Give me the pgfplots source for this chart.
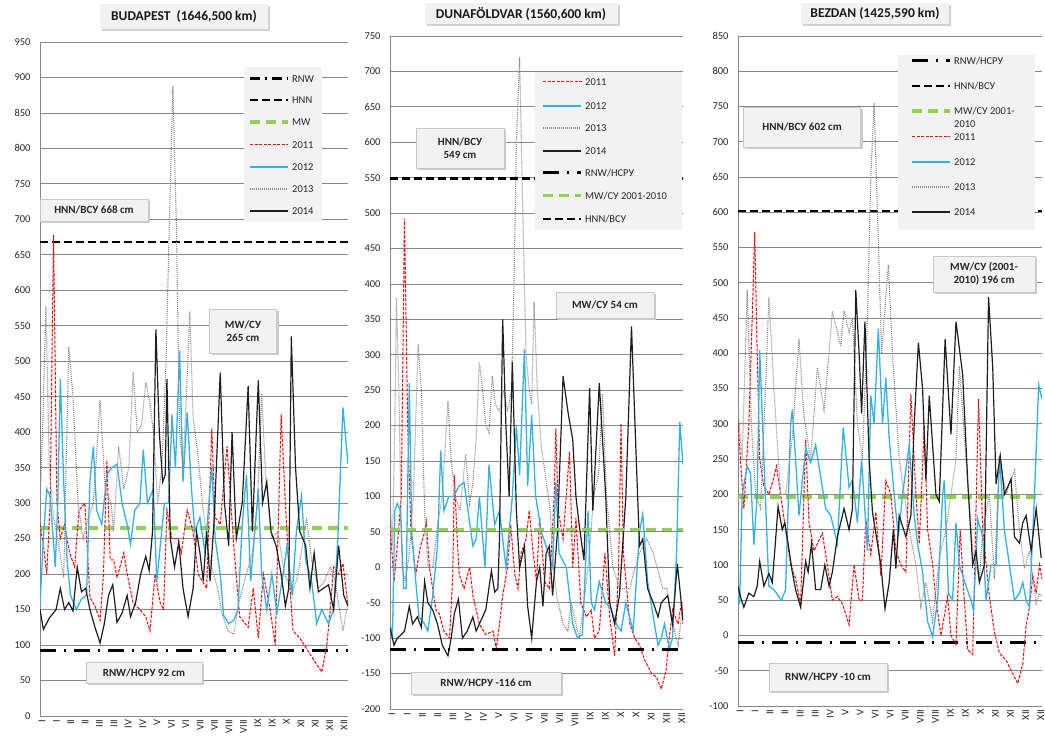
\documentclass[border=0pt]{standalone}
\usepackage{fontspec}
\setmainfont{Carlito}
\usepackage{pgfplots}
\pgfplotsset{compat=1.18}

\definecolor{gridc}{RGB}{134,134,134}
\definecolor{legbg}{RGB}{242,242,242}
\definecolor{c11}{RGB}{255,0,0}
\definecolor{c12}{RGB}{51,178,230}
\definecolor{c13}{RGB}{140,140,140}
\definecolor{c14}{RGB}{30,30,30}
\definecolor{mwgreen}{RGB}{146,208,80}
\definecolor{tickc}{RGB}{38,38,38}

\newcommand\fnt{\fontsize{10.5}{12}\selectfont}

\tikzset{
  rnw/.style={draw=black, line width=3pt, dash pattern=on 16pt off 8pt on 2pt off 8pt},
  hnn/.style={draw=black, line width=2.6pt, dash pattern=on 8pt off 4pt},
  mw/.style={draw=mwgreen, line width=3.5pt, dash pattern=on 10pt off 6pt},
  y11/.style={draw=c11, line width=1pt, dash pattern=on 3pt off 1.5pt},
  y12/.style={draw=c12, line width=1.3pt},
  y13/.style={draw=c13, line width=1.1pt, dash pattern=on 1pt off 1pt},
  y14/.style={draw=c14, line width=1.2pt},
  note/.style={draw=black!22, line width=0.6pt, fill=legbg, align=center,
    font=\bfseries\fontsize{11}{13}\selectfont, text=black!85, inner sep=2pt,
    preaction={fill=black!20, transform canvas={xshift=2pt,yshift=-2pt}}},
  ttl/.style={draw=none, fill=legbg, align=center,
    font=\bfseries\fontsize{13.5}{15}\selectfont, text=black!90, inner sep=2pt,
    preaction={fill=black!18, transform canvas={xshift=2pt,yshift=-2pt}}},
}

\pgfplotsset{
  panel/.style={
    scale only axis, anchor=south west,
    xmin=1, xmax=365,
    axis x line*=bottom, axis y line*=left,
    axis line style={gridc, line width=0.8pt, -},
    ymajorgrids, grid style={gridc, line width=0.8pt},
    major tick length=0pt,
    tick label style={font=\fnt, text=tickc},
    xticklabel style={rotate=90, anchor=east, yshift=-2pt},
    yticklabel style={xshift=-6pt},
    /pgf/number format/assume math mode=true,
    /pgf/number format/1000 sep={},
  },
}

% legend sample and legend text
\newcommand\legline[3]{%
  \begin{scope}\draw[#3] (#1pt,#2pt) -- ++(38pt,0pt);\end{scope}}
\newcommand\legtext[3]{%
  \node[anchor=west, font=\fnt, text=tickc, inner sep=0pt] at ([xshift=42pt]#1pt,#2pt) {#3};}
% red dashed sample built from filled bits
\newcommand\legdash[2]{%
  \foreach \k in {0,...,8} {\fill[c11] ([xshift=\k*4.5pt]#1pt,#2pt-0.5pt) rectangle ++(3pt,1pt);}}

\begin{document}
\begin{tikzpicture}
\path[use as bounding box] (0pt,0pt) rectangle (1045pt,738pt);

% BUDAPEST
\begin{axis}[panel, at={(40pt,22pt)}, width=308pt, height=674pt,
  ymin=0, ymax=950, ytick={0,50,...,950},
  xtick={1,18,...,358},
  xticklabels={I,I,II,II,III,III,IV,IV,V,VI,VI,VII,VII,VIII,VIII,IX,IX,X,XI,XI,XII,XII}]
\addplot[rnw] coordinates {(1,92) (365,92)};
\addplot[hnn] coordinates {(1,668) (365,668)};
\addplot[mw] coordinates {(1,265) (365,265)};
\addplot[y11] coordinates {(1,270)(5,240)(9,200)(13,300)(17,678)(21,300)(25,250)(30,270)(36,230)(42,210)(47,290)(54,300)(60,167)(66,155)(72,135)(76,200)(80,360)(84,220)(88,220)(92,195)(100,230)(104,200)(111,160)(119,150)(126,140)(131,120)(137,200)(143,160)(147,150)(151,290)(157,250)(164,250)(168,230)(175,290)(182,260)(188,200)(198,180)(204,405)(208,280)(214,270)(222,380)(230,240)(237,140)(247,125)(253,180)(259,110)(265,200)(273,150)(279,100)(286,425)(291,300)(296,190)(300,120)(308,110)(316,95)(324,80)(334,62)(340,100)(344,150)(348,210)(354,200)(359,215)(365,155)};
\addplot[y12] coordinates {(1,155)(5,250)(9,320)(13,310)(19,210)(22,300)(25,475)(29,330)(33,220)(37,170)(44,150)(50,165)(56,170)(60,330)(64,380)(68,290)(74,270)(80,340)(86,350)(92,355)(98,300)(104,270)(108,242)(113,290)(119,300)(123,375)(128,300)(135,320)(139,190)(144,250)(148,300)(153,300)(157,425)(161,350)(166,515)(170,330)(175,428)(180,320)(184,260)(190,280)(196,230)(204,352)(208,250)(214,200)(218,142)(224,130)(230,135)(235,150)(240,270)(245,340)(250,190)(259,320)(263,200)(269,150)(275,200)(281,145)(287,190)(293,240)(299,170)(304,260)(310,310)(315,220)(322,190)(328,130)(334,150)(342,130)(348,150)(353,250)(359,435)(365,355)};
\addplot[y13] coordinates {(1,300)(4,400)(8,578)(12,350)(17,280)(22,250)(29,195)(35,520)(40,450)(46,300)(52,250)(58,280)(64,300)(72,445)(78,320)(85,300)(88,260)(94,380)(100,320)(106,350)(111,485)(116,400)(121,410)(126,470)(131,440)(135,400)(140,300)(145,350)(150,500)(154,700)(158,888)(162,700)(166,400)(170,350)(174,450)(178,570)(182,420)(187,375)(193,300)(200,230)(206,200)(211,180)(216,145)(223,120)(230,115)(236,160)(245,200)(252,230)(258,300)(263,455)(268,330)(275,250)(282,260)(290,200)(300,175)(306,200)(311,240)(316,280)(322,220)(330,180)(337,190)(344,210)(350,190)(355,150)(359,120)(365,160)};
\addplot[y14] coordinates {(1,150)(5,122)(12,138)(20,150)(25,180)(30,150)(35,160)(40,148)(45,210)(50,175)(55,180)(60,150)(66,125)(72,103)(77,130)(82,170)(87,185)(92,132)(98,145)(104,170)(108,140)(114,160)(120,200)(126,225)(130,205)(134,260)(138,545)(142,400)(146,330)(149,340)(151,475)(155,250)(160,210)(165,245)(170,180)(176,140)(182,180)(186,260)(190,230)(194,190)(198,260)(202,190)(207,280)(214,484)(219,300)(224,240)(228,400)(233,250)(240,300)(247,465)(252,260)(259,473)(264,300)(269,330)(274,260)(280,240)(286,200)(291,155)(295,180)(298,535)(303,350)(308,260)(315,240)(320,180)(325,230)(330,175)(336,180)(342,185)(348,150)(354,240)(360,170)(365,155)};
\end{axis}

% DUNAFOLDVAR
\begin{axis}[panel, at={(390pt,29pt)}, width=293pt, height=673pt,
  ymin=-200, ymax=750, ytick={-200,-150,...,750},
  xtick={1,19.95,38.9,57.8,76.8,95.7,114.7,133.6,152.6,171.5,190.5,209.4,228.4,247.3,266.3,285.2,304.2,323.1,342.1,361},
  xticklabels={I,I,II,II,III,IV,IV,V,VI,VI,VII,VII,VIII,IX,IX,X,X,XI,XII,XII}]
\addplot[y11] coordinates {(1,60)(6,-20)(10,30)(15,100)(19,492)(23,200)(27,50)(33,-10)(39,30)(44,50)(46,65)(50,0)(54,-30)(58,-60)(62,-65)(68,-90)(75,-100)(79,-10)(81,130)(84,50)(87,-10)(93,-30)(100,0)(104,-40)(112,-80)(120,-95)(129,-90)(133,-115)(137,-80)(141,-40)(147,0)(151,60)(156,-10)(160,-30)(164,20)(170,40)(174,80)(178,30)(183,-20)(187,70)(193,-20)(199,-30)(205,100)(207,196)(210,80)(216,40)(224,163)(228,0)(232,70)(238,-50)(245,-70)(251,-60)(255,-100)(261,-90)(268,20)(274,-70)(280,-125)(285,0)(288,203)(291,20)(299,-80)(305,-100)(311,-110)(317,-130)(326,-150)(332,-155)(338,-172)(344,-145)(348,-100)(352,-60)(359,-80)(363,-50)(365,-80)};
\addplot[y12] coordinates {(1,-80)(4,-100)(7,80)(10,90)(14,80)(18,-30)(21,-30)(25,260)(28,50)(33,-20)(37,-70)(44,-80)(48,-90)(54,-40)(60,30)(64,165)(68,80)(74,100)(80,100)(87,115)(93,120)(104,30)(108,40)(112,100)(119,0)(124,145)(131,60)(137,80)(145,0)(153,100)(158,200)(162,130)(168,308)(172,115)(177,215)(182,100)(189,50)(195,30)(203,0)(207,120)(211,20)(220,0)(228,-80)(234,-100)(240,-95)(247,80)(251,-50)(255,-60)(261,-20)(269,-50)(276,-60)(282,-80)(288,-90)(294,-50)(303,-90)(311,50)(315,75)(321,-20)(328,-70)(334,-110)(338,-100)(342,-80)(348,-115)(352,-100)(357,20)(361,205)(365,145)};
\addplot[y13] coordinates {(1,100)(4,30)(7,200)(9,380)(12,250)(16,0)(20,-20)(25,20)(30,100)(36,315)(40,250)(44,80)(48,0)(54,0)(60,60)(66,100)(73,235)(77,150)(82,100)(88,80)(95,160)(100,90)(104,120)(108,180)(112,290)(116,250)(120,200)(124,190)(128,270)(132,230)(137,220)(142,250)(147,220)(152,250)(155,400)(158,600)(162,720)(166,500)(170,300)(174,250)(177,230)(180,375)(184,250)(189,170)(194,130)(200,80)(204,0)(208,-40)(216,-80)(222,-90)(226,-50)(236,-100)(242,-50)(248,10)(254,100)(260,130)(265,245)(270,100)(278,0)(286,-30)(293,-30)(299,-30)(303,-10)(311,20)(320,40)(328,20)(340,-30)(345,-30)(352,-80)(359,-110)(363,-70)(365,-50)};
\addplot[y14] coordinates {(1,-85)(6,-110)(10,-100)(15,-95)(19,-90)(25,-55)(29,-80)(35,-70)(40,-85)(44,-20)(48,-50)(54,-60)(60,-80)(66,-110)(73,-125)(77,-100)(81,-65)(86,-45)(91,-100)(97,-90)(104,-70)(108,-90)(114,-75)(120,-60)(127,-5)(131,-35)(135,-30)(137,40)(141,350)(145,200)(149,100)(153,290)(158,80)(162,0)(168,30)(172,-55)(177,-100)(183,-20)(187,0)(191,-55)(195,20)(199,30)(203,-40)(209,50)(216,270)(222,220)(228,180)(232,100)(236,60)(242,10)(249,253)(253,80)(261,260)(269,100)(274,-50)(280,-80)(286,-40)(294,100)(301,340)(307,150)(311,30)(315,40)(321,-30)(328,-50)(334,-70)(338,-50)(346,-40)(352,-80)(358,5)(365,-75)};
\addplot[rnw] coordinates {(1,-116) (365,-116)};
\addplot[mw, line width=3pt] coordinates {(1,54) (365,54)};
\addplot[hnn] coordinates {(1,549) (365,549)};
\end{axis}

% BEZDAN
\begin{axis}[panel, at={(738pt,32pt)}, width=304pt, height=670pt,
  ymin=-100, ymax=850, ytick={-100,-50,...,850},
  xtick={1,19,...,361},
  xticklabels={I,I,II,II,III,III,IV,V,V,VI,VI,VII,VIII,VIII,IX,IX,X,XI,XI,XII,XII}]
\addplot[rnw] coordinates {(1,-10) (365,-10)};
\addplot[hnn] coordinates {(1,602) (365,602)};
\addplot[mw, line width=4pt] coordinates {(1,196) (365,196)};
\addplot[y11] coordinates {(1,305)(5,230)(8,180)(14,300)(18,450)(21,572)(24,400)(27,250)(32,212)(38,200)(43,220)(47,240)(52,200)(58,150)(64,100)(70,80)(76,45)(80,200)(82,278)(86,160)(92,120)(96,130)(102,145)(108,100)(114,50)(120,55)(126,45)(134,15)(140,100)(146,50)(150,50)(154,165)(160,115)(166,175)(172,85)(178,219)(184,200)(190,120)(196,100)(202,90)(208,342)(214,200)(218,130)(224,297)(228,150)(234,100)(238,50)(244,0)(252,55)(256,0)(262,-13)(267,150)(272,50)(276,-20)(282,-27)(289,335)(294,150)(302,55)(308,5)(314,-25)(322,-35)(328,-50)(336,-68)(342,-40)(346,15)(350,40)(354,85)(358,60)(362,100)(365,80)};
\addplot[y12] coordinates {(1,60)(3,45)(6,200)(12,240)(16,230)(20,129)(24,200)(27,405)(32,250)(38,70)(44,65)(50,55)(53,50)(58,65)(64,300)(66,320)(70,250)(74,170)(82,266)(88,245)(94,270)(100,225)(106,180)(112,170)(120,130)(127,295)(134,210)(138,220)(144,160)(149,250)(156,120)(160,340)(164,300)(169,435)(174,300)(178,365)(182,280)(188,200)(193,140)(198,200)(206,270)(212,170)(216,130)(222,90)(228,20)(234,-2)(240,50)(246,200)(248,220)(253,60)(258,50)(262,160)(266,100)(274,70)(280,50)(283,35)(288,165)(294,140)(298,50)(304,100)(310,100)(314,255)(320,150)(326,100)(332,50)(338,60)(342,75)(346,50)(350,40)(356,200)(361,355)(365,335)};
\addplot[y13] coordinates {(1,320)(6,250)(12,490)(17,300)(22,200)(28,180)(34,350)(38,480)(44,350)(52,200)(58,200)(66,280)(74,420)(80,310)(88,250)(96,380)(104,320)(110,400)(114,460)(120,430)(124,410)(128,460)(134,430)(138,450)(144,300)(150,250)(156,450)(160,650)(164,755)(168,600)(173,400)(178,480)(181,525)(186,400)(194,250)(206,150)(214,100)(220,40)(226,75)(234,20)(242,110)(250,150)(262,250)(266,382)(274,250)(282,120)(290,80)(294,150)(302,200)(308,80)(314,255)(322,200)(332,234)(338,150)(344,95)(350,120)(358,45)(362,60)(365,55)};
\addplot[y14] coordinates {(1,70)(4,55)(8,40)(14,60)(20,55)(24,70)(27,105)(32,70)(38,88)(42,75)(45,120)(49,183)(54,150)(57,160)(61,130)(66,90)(70,65)(76,40)(82,105)(85,90)(89,130)(94,65)(100,65)(105,100)(110,70)(114,90)(120,140)(128,180)(134,150)(138,180)(142,490)(146,400)(149,315)(153,445)(158,250)(162,175)(172,100)(177,38)(182,75)(187,150)(190,95)(194,170)(202,140)(208,170)(212,300)(217,415)(222,350)(226,220)(230,340)(238,200)(242,190)(249,420)(256,285)(262,445)(270,370)(276,220)(282,100)(286,120)(290,75)(296,100)(301,480)(306,380)(310,215)(315,255)(320,200)(328,222)(332,140)(338,131)(342,160)(346,170)(352,120)(358,180)(364,110)};
\end{axis}

% legend backgrounds
\fill[legbg] (244pt,516pt) rectangle (322pt,671pt);
\fill[legbg] (535pt,508pt) rectangle (682pt,666pt);
\fill[legbg] (898pt,508pt) rectangle (1035pt,683pt);

% legend samples
\legline{250}{659}{rnw, dash pattern=on 10pt off 5pt on 2pt off 5pt}
\legline{250}{638}{hnn}
\legline{250}{616}{mw}
\legline{250}{593}{y11}
\legline{912}{601}{y11}
\legline{250}{571}{y12}
\legline{543}{632}{y12}
\legline{912}{576}{y12}
\legline{250}{549}{y13}
\legline{543}{610}{y13}
\legline{912}{551}{y13}
\legline{250}{527}{y14}
\legline{543}{587}{y14}
\legline{912}{526}{y14}
\legline{543}{565}{rnw}
\legline{543}{542}{mw, line width=3pt}
\legline{543}{519}{hnn}
\legline{912}{677}{rnw}
\legline{912}{652}{hnn}
\legline{912}{627}{mw, line width=4pt}
\legdash{543}{656}

% legend texts
\legtext{250}{659}{RNW}
\legtext{250}{638}{HNN}
\legtext{250}{616}{MW}
\legtext{250}{593}{2011}
\legtext{250}{571}{2012}
\legtext{250}{549}{2013}
\legtext{250}{527}{2014}
\legtext{543}{656}{2011}
\legtext{543}{632}{2012}
\legtext{543}{610}{2013}
\legtext{543}{587}{2014}
\legtext{543}{565}{RNW/НСРУ}
\legtext{543}{542}{MW/СУ 2001-2010}
\legtext{543}{519}{HNN/ВСУ}
\legtext{912}{677}{RNW/НСРУ}
\legtext{912}{652}{HNN/ВСУ}
\legtext{912}{627}{MW/СУ 2001-}
\legtext{912}{614}{2010}
\legtext{912}{601}{2011}
\legtext{912}{576}{2012}
\legtext{912}{551}{2013}
\legtext{912}{526}{2014}

% titles
\node[ttl, minimum width=168pt, minimum height=25pt] at (184pt,721pt) {BUDAPEST\ \ (1646,500 km)};
\node[ttl, minimum width=193pt, minimum height=21pt] at (521pt,724pt) {DUNAFÖLDVAR (1560,600 km)};
\node[ttl, minimum width=148pt, minimum height=21pt] at (875pt,724pt) {BEZDAN (1425,590 km)};

% notes
\node[note, minimum width=108pt, minimum height=22pt] at (94pt,528pt) {HNN/ВСУ 668 cm};
\node[note, minimum width=67pt, minimum height=44pt] at (243pt,407pt) {MW/СУ\\265 cm};
\node[note, minimum width=116pt, minimum height=21pt] at (144pt,65pt) {RNW/НСРУ 92 cm};
\node[note, minimum width=88pt, minimum height=40pt] at (460pt,590pt) {HNN/ВСУ\\549 cm};
\node[note, minimum width=98pt, minimum height=26pt] at (605pt,433pt) {MW/СУ 54 cm};
\node[note, minimum width=150pt, minimum height=22pt] at (486pt,55pt) {RNW/НСРУ -116 cm};
\node[note, minimum width=117pt, minimum height=40pt] at (802pt,611pt) {HNN/ВСУ 602 cm};
\node[note, minimum width=102pt, minimum height=36pt] at (984pt,464pt) {MW/СУ (2001-\\2010) 196 cm};
\node[note, minimum width=118pt, minimum height=28pt] at (828pt,61pt) {RNW/НСРУ -10 cm};
\end{tikzpicture}
\end{document}
